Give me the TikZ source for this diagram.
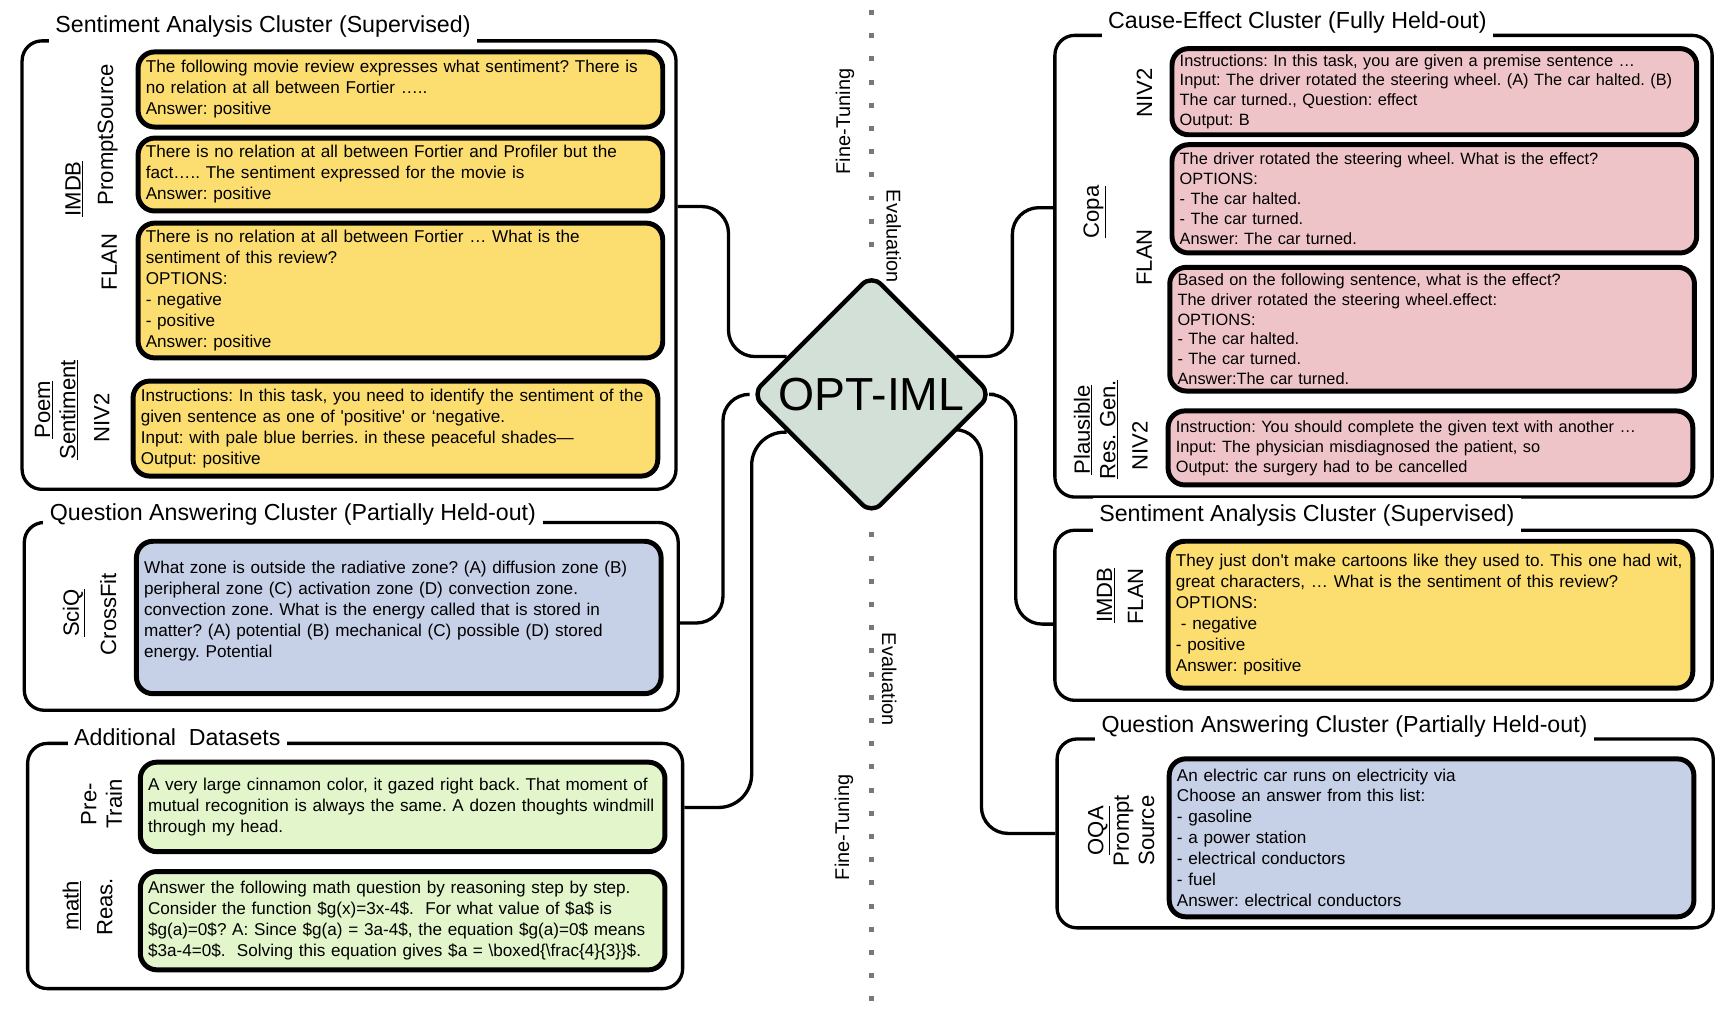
\documentclass[tikz,border=0pt]{standalone}
\usepackage{fontspec}
\setmainfont{Liberation Sans}
\usetikzlibrary{shapes.geometric, backgrounds}
\frenchspacing

% Colours of the prompt boxes and the model
\definecolor{promptyellow}{RGB}{252,222,112}
\definecolor{promptpink}{RGB}{239,196,201}
\definecolor{promptblue}{RGB}{198,208,230}
\definecolor{promptgreen}{RGB}{227,245,202}
\definecolor{modelgreen}{RGB}{211,224,215}
\definecolor{dotgrey}{RGB}{120,120,120}

\tikzset{
    cluster/.style={draw, line width=3pt, rounded corners=18pt},
    clustertitle/.style={anchor=west, fill=white, inner xsep=6pt, inner ysep=6pt, font=\fontsize{21}{25}\selectfont},
    prompt/.style={draw, line width=4.5pt, rounded corners=15pt, align=left, inner xsep=7pt, text width=461pt, font=\fontsize{15.5}{19}\selectfont},
    tightprompt/.style={prompt, font=\fontsize{14.8}{18}\selectfont},
    source/.style={rotate=90, align=center, inner sep=0pt, font=\fontsize{20}{23}\selectfont},
    phase/.style={inner sep=0pt, font=\fontsize{18}{20}\selectfont},
    link/.style={line width=3pt, rounded corners=24pt},
}

\begin{document}
\begin{tikzpicture}[x=1pt, y=-1pt]

    % Fix the page to the size of the figure
    \useasboundingbox (0,0) rectangle (1568,913);

    % Define the end points of the dotted divider
    \coordinate (dottop) at (789,9);
    \coordinate (dotbottom) at (789,907);

    % Draw the model
    \node[diamond, draw, line width=4pt, fill=modelgreen, rounded corners=12pt,
          minimum width=218pt, minimum height=218pt, inner sep=0pt,
          font=\fontsize{42}{46}\selectfont] (opt) at (789,357) {OPT-IML};

    % Draw the cluster frames
    \node[cluster, minimum width=592pt, minimum height=406pt] (lsa) at (316,240) {};
    \node[cluster, minimum width=592pt, minimum height=170pt] (lqa) at (318,558) {};
    \node[cluster, minimum width=593pt, minimum height=222pt] (add) at (321.5,784) {};
    \node[cluster, minimum width=595pt, minimum height=418pt] (rce) at (1252.5,241) {};
    \node[cluster, minimum width=595pt, minimum height=154pt] (rsa) at (1252.5,557) {};
    \node[cluster, minimum width=594pt, minimum height=171pt] (rqa) at (1254,754.5) {};

    % Place the cluster titles over the top lines
    \node[clustertitle] (lsatitle) at (44,24) {Sentiment Analysis Cluster (Supervised)};
    \node[clustertitle] (lqatitle) at (39,466) {Question Answering Cluster (Partially Held-out)};
    \node[clustertitle] (addtitle) at (61,667) {Additional\ \ Datasets};
    \node[clustertitle] (rcetitle) at (997,20) {Cause-Effect Cluster (Fully Held-out)};
    \node[clustertitle] (rsatitle) at (989,467) {Sentiment Analysis Cluster (Supervised)};
    \node[clustertitle] (rqatitle) at (991,658) {Question Answering Cluster (Partially Held-out)};

    % Left side: sentiment analysis prompts
    \node[prompt, fill=promptyellow, minimum height=68pt] (lsa1) at (362.5,81) {The following movie review expresses what sentiment? There is\\no relation at all between Fortier …..\\Answer: positive};
    \node[prompt, fill=promptyellow, minimum height=66pt] (lsa2) at (362.5,158) {There is no relation at all between Fortier and Profiler but the\\fact….. The sentiment expressed for the movie is\\Answer: positive};
    \node[prompt, fill=promptyellow, minimum height=122pt] (lsa3) at (362.5,263) {There is no relation at all between Fortier … What is the\\sentiment of this review?\\OPTIONS:\\- negative\\- positive\\Answer: positive};
    \node[prompt, fill=promptyellow, minimum height=86pt] (lsa4) at (358,388) {Instructions: In this task, you need to identify the sentiment of the\\given sentence as one of \textquotesingle positive\textquotesingle\ or ‘negative.\\Input: with pale blue berries. in these peaceful shades—\\Output: positive};

    % Left side: question answering prompt
    \node[prompt, fill=promptblue, minimum height=138pt, text depth=90pt] (lqa1) at (361,559) {What zone is outside the radiative zone? (A) diffusion zone (B)\\peripheral zone (C) activation zone (D) convection zone.\\convection zone. What is the energy called that is stored in\\matter? (A) potential (B) mechanical (C) possible (D) stored\\energy. Potential};

    % Left side: additional datasets
    \node[prompt, fill=promptgreen, minimum height=81pt] (add1) at (364.5,730.5) {A very large cinnamon color, it gazed right back. That moment of\\mutual recognition is always the same. A dozen thoughts windmill\\through my head.};
    \node[prompt, fill=promptgreen, minimum height=89pt] (add2) at (364.5,833.5) {Answer the following math question by reasoning step by step.\\Consider the function \$g(x)=3x-4\$.\ \ For what value of \$a\$ is\\\$g(a)=0\$? A: Since \$g(a) = 3a-4\$, the equation \$g(a)=0\$ means\\\$3a-4=0\$.\ \ Solving this equation gives \$a = \textbackslash boxed\{\textbackslash frac\{4\}\{3\}\}\$.};

    % Right side: cause-effect prompts
    \node[tightprompt, fill=promptpink, minimum height=78pt] (rce1) at (1298.5,83) {Instructions: In this task, you are given a premise sentence …\\Input: The driver rotated the steering wheel. (A) The car halted. (B)\\The car turned., Question: effect\\Output: B};
    \node[tightprompt, fill=promptpink, minimum height=98pt] (rce2) at (1298.5,180) {The driver rotated the steering wheel. What is the effect?\\OPTIONS:\\- The car halted.\\- The car turned.\\Answer: The car turned.};
    \node[tightprompt, fill=promptpink, minimum height=112pt] (rce3) at (1296.5,298) {Based on the following sentence, what is the effect?\\The driver rotated the steering wheel.effect:\\OPTIONS:\\- The car halted.\\- The car turned.\\Answer:The car turned.};
    \node[tightprompt, fill=promptpink, minimum height=67pt] (rce4) at (1295,405.5) {Instruction: You should complete the given text with another …\\Input: The physician misdiagnosed the patient, so\\Output: the surgery had to be cancelled};

    % Right side: sentiment analysis and question answering prompts
    \node[prompt, fill=promptyellow, minimum height=133pt] (rsa1) at (1295,556.5) {They just don\textquotesingle t make cartoons like they used to. This one had wit,\\great characters, … What is the sentiment of this review?\\OPTIONS:\\\hspace{0.3em}- negative\\- positive\\Answer: positive};
    \node[prompt, fill=promptblue, minimum height=143pt] (rqa1) at (1296,758.5) {An electric car runs on electricity via\\Choose an answer from this list:\\- gasoline\\- a power station\\- electrical conductors\\- fuel\\Answer: electrical conductors};

    % Dataset and template labels, left
    \node[source] (imdbl) at (67,171) {\underline{IMDB}};
    \node[source] (psl) at (97.5,122) {PromptSource};
    \node[source] (flanl) at (99,237) {FLAN};
    \node[source] (poem) at (51,371) {\underline{Poem}\\\underline{Sentiment}};
    \node[source] (niv2l) at (92,378) {NIV2};
    \node[source] (sciq) at (67,555) {\underline{SciQ}};
    \node[source] (crossfit) at (98,556) {CrossFit};
    \node[source] (pretrain) at (92,728) {Pre-\\Train};
    \node[source] (math) at (65,820) {\underline{math}};
    \node[source] (reas) at (95,821) {Reas.};

    % Dataset and template labels, right
    \node[source] (niv2a) at (1036,84) {NIV2};
    \node[source] (copa) at (991,192) {\underline{Copa}};
    \node[source] (flanr) at (1036,233) {FLAN};
    \node[source] (plausible) at (992,389) {\underline{Plausible}\\\underline{Res. Gen.}};
    \node[source] (niv2b) at (1032,404) {NIV2};
    \node[source] (imdbr) at (1001,539) {\underline{IMDB}};
    \node[source] (flanrs) at (1028,540) {FLAN};
    \node[source] (oqa) at (1015,752) {\underline{OQA}\\Prompt\\Source};

    % Phase labels beside the divider
    \node[phase, rotate=90] (ft1) at (765,110) {Fine-Tuning};
    \node[phase, rotate=-90] (ev1) at (809,214) {Evaluation};
    \node[phase, rotate=-90] (ev2) at (805,615) {Evaluation};
    \node[phase, rotate=90] (ft2) at (764,749) {Fine-Tuning};

    % Connectors from the clusters to the model, behind the diamond
    \begin{scope}[on background layer]
        \draw[link] ([yshift=53pt]lsa.east) -- ++(46,0) |- (opt.156);
        \draw[link] ([yshift=-6pt]lqa.east) -- ++(39,0) |- (opt.west);
        \draw[link, rounded corners=30pt] ([yshift=53pt]add.east) -- ++(61,0) |- (opt.204);
        \draw[link] ([yshift=53pt]rce.west) -- ++(-37,0) |- (opt.24);
        \draw[link] ([yshift=-8pt]rsa.west) -- ++(-34,0) |- (opt.east);
        \draw[link] (rqa.west) -- ++(-67,0) |- (opt.-22);
    \end{scope}

    % Dotted divider between fine-tuning and evaluation
    \draw[dotgrey, line width=4.5pt, dash pattern=on 4.5pt off 16.5pt, shorten >=6pt] (dottop) -- (opt.north);
    \draw[dotgrey, line width=4.5pt, dash pattern=on 4.5pt off 16.5pt, shorten <=14pt] (opt.south) -- (dotbottom);

\end{tikzpicture}
\end{document}
